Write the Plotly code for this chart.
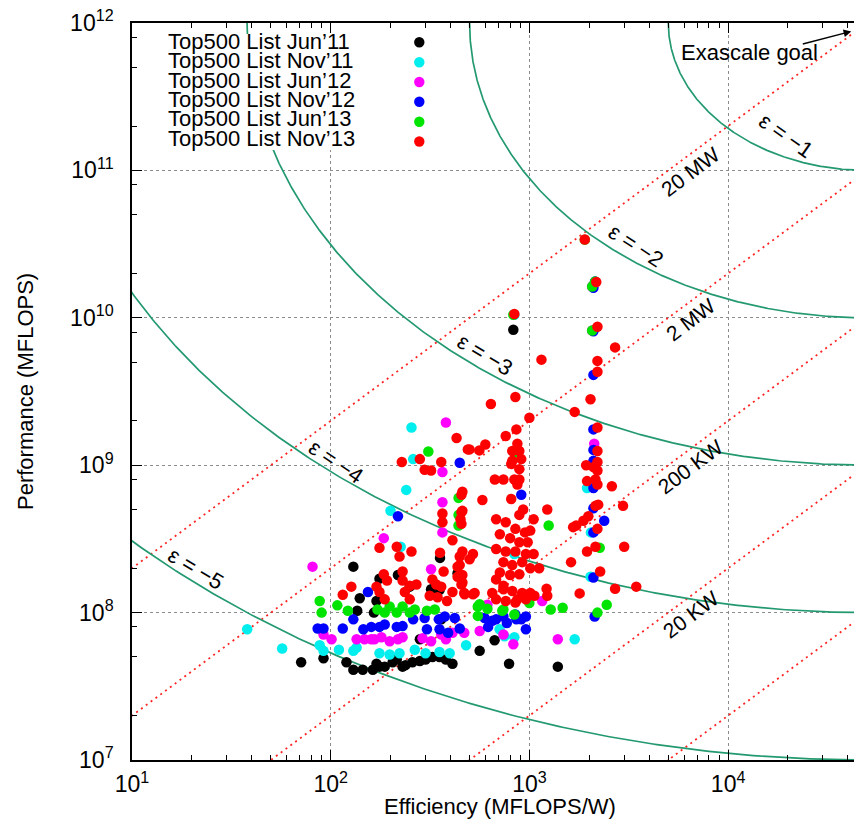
import numpy as np
import plotly.graph_objects as go

# ---------------- data ----------------
SERIES_NAMES = ["Top500 List Jun’11", "Top500 List Nov’11", "Top500 List Jun’12",
                "Top500 List Nov’12", "Top500 List Jun’13", "Top500 List Nov’13"]
SERIES_COLORS = ["#000000", "#00eeee", "#ff00ff", "#0000ff", "#00e400", "#ff0000"]

JUN11_EFF = [71, 92, 120, 130, 145, 163, 130, 140, 136, 170, 176, 187, 205, 215, 230, 238, 258, 281,
             300, 325, 353, 380, 410, 562, 668, 790, 281, 218, 320, 353, 355, 435, 176, 830, 1390,
             165, 170, 250, 360]
JUN11_PERF = [4.6e7, 4.9e7, 4.6e7, 4.1e7, 4.1e7, 4.1e7, 2.05e8, 1.25e8, 1.03e8, 4.5e7, 4.3e7, 4.3e7,
              4.6e7, 4.8e7, 4.3e7, 4.4e7, 4.6e7, 4.7e7, 4.8e7, 5.0e7, 5.0e7, 4.8e7, 4.5e7, 5.5e7,
              6.5e7, 4.5e7, 6.6e7, 1.8e8, 1.44e8, 1.42e8, 2.35e8, 1.85e8, 1.7e8, 8.3e9, 4.3e7,
              1.0e8, 1.2e8, 1.5e8, 9.0e7]

NOV11_EFF = [38, 57, 88, 92, 110, 130, 135, 176, 198, 222, 265, 300, 353, 397, 480, 708, 840,
             255, 260, 240, 200, 225, 1690, 2040, 1950, 2030, 840, 840, 750]
NOV11_PERF = [7.7e7, 5.7e7, 6.0e7, 5.5e7, 5.6e7, 5.5e7, 5.8e7, 5.3e7, 5.2e7, 5.3e7, 5.6e7, 5.3e7,
              5.4e7, 5.3e7, 6.0e7, 7.7e7, 6.8e7, 1.8e9, 1.1e9, 6.8e8, 4.9e8, 2.8e8, 6.6e7, 3.5e8,
              7.0e8, 1.75e8, 1.05e10, 2.5e8, 6.9e7]

JUN12_EFF = [81, 92, 101, 135, 148, 166, 160, 180, 198, 218, 230, 290, 320, 360, 380, 410, 470,
             562, 740, 830, 380, 365, 365, 365, 185, 320, 615, 1160, 1390, 2120, 2070, 2070]
JUN12_PERF = [2.05e8, 7.1e7, 6.6e7, 6.6e7, 6.6e7, 6.6e7, 6.6e7, 6.8e7, 6.4e7, 6.6e7, 6.8e7, 6.7e7,
              6.4e7, 7.1e7, 6.6e7, 7.3e7, 7.3e7, 7.5e7, 7.1e7, 6.1e7, 1.95e9, 9.0e8, 5.6e8, 3.5e8,
              3.2e8, 1.97e8, 1.13e8, 1.2e8, 6.6e7, 1.4e9, 1.63e10, 8.2e9]

NOV12_EFF = [86, 92, 115, 130, 146, 154, 160, 176, 187, 215, 230, 260, 297, 350, 375, 421, 446,
             305, 353, 390, 595, 650, 680, 620, 770, 860, 740, 850, 960, 446, 218, 910,
             2100, 2100, 2100, 2100, 2100, 2380, 2100, 2100, 2130, 2100, 2100, 2100, 2140, 910, 960]
NOV12_PERF = [7.8e7, 7.8e7, 7.8e7, 9.0e7, 7.7e7, 1.38e8, 8.0e7, 8.0e7, 8.3e7, 8.0e7, 8.1e7, 9.0e7,
              9.2e7, 9.0e7, 9.4e7, 9.2e7, 7.8e7, 7.7e7, 7.7e7, 7.3e7, 9.2e7, 8.8e7, 9.0e7, 8.0e7,
              8.5e7, 9.0e7, 9.4e7, 9.7e7, 9.4e7, 1.04e9, 4.5e8, 6.3e8,
              1.75e9, 1.27e9, 1.07e9, 7.0e8, 5.1e8, 4.2e8, 3.5e8, 1.73e8, 9.4e7, 1.6e10, 8.1e9,
              4.1e9, 1.76e10, 9.0e7, 7.7e7]

JUN13_EFF = [88, 90, 108, 122, 172, 187, 198, 215, 230, 250, 265, 305, 334, 550, 550, 615, 730,
             840, 562, 740, 1000, 310, 440, 440, 440, 860, 1250, 1280, 1470, 2260, 2450, 2200,
             1900, 2140, 2070, 830, 2070]
JUN13_PERF = [1.2e8, 1.0e8, 1.12e8, 1.03e8, 1.05e8, 1.0e8, 1.1e8, 1.0e8, 1.1e8, 1.0e8, 1.05e8,
              1.03e8, 1.05e8, 1.1e8, 9.5e7, 1.06e8, 1.03e8, 9.7e7, 1.14e8, 1.05e8, 1.16e8, 1.24e9,
              6.0e8, 4.6e8, 3.9e8, 1.22e9, 3.9e8, 1.05e8, 1.08e8, 2.75e8, 1.13e8, 1.0e8,
              3.39e10, 1.76e10, 1.63e10, 1.05e10, 8.2e9]

NOV13_POINTS = [
    (1900, 3.4e10), (2170, 1.75e10), (840, 1.06e10), (2200, 8.7e9), (2700, 6.3e9), (1150, 5.2e9),
    (2200, 5.1e9), (2200, 4.3e9), (850, 2.9e9), (2030, 2.8e9), (640, 2.6e9), (1690, 2.3e9),
    (1000, 2.1e9), (2200, 1.8e9),
    (2200, 1.25e9), (2200, 1.05e9), (2100, 9.7e8), (2200, 9.2e8), (2150, 8.0e8), (2200, 7.4e8),
    (1930, 1.0e9), (1950, 7.8e8), (2220, 5.4e8), (2150, 5.3e8), (2600, 7.2e8), (2960, 5.3e8),
    (1980, 4.5e8), (1870, 4.2e8), (1720, 3.9e8), (1660, 3.8e8), (2200, 3.7e8), (2150, 2.8e8),
    (1950, 2.6e8), (3000, 2.8e8), (2270, 1.9e8), (2700, 1.45e8), (3450, 1.5e8), (1790, 1.35e8),
    (1620, 2.2e8), (1120, 2.0e8), (1220, 1.45e8), (1230, 1.3e8), (1230, 5.0e8),
    (870, 1.4e9), (890, 1.25e9), (910, 1.1e9), (890, 9.4e8), (890, 8.0e8), (870, 7.4e8),
    (930, 5.0e8), (890, 4.6e8), (1050, 4.3e8), (1010, 3.6e8), (950, 3.5e8), (980, 3.0e8),
    (1050, 2.5e8),
    (760, 1.58e9), (600, 1.38e9), (560, 1.26e9), (500, 1.28e9), (820, 1.07e9), (670, 8.0e8),
    (740, 8.0e8), (840, 8.0e8), (580, 5.8e8), (810, 5.9e8),
    (460, 6.6e8), (460, 4.9e8), (450, 4.3e8),
    (680, 4.3e8), (760, 4.1e8), (850, 3.7e8), (710, 3.4e8), (800, 3.2e8), (890, 3.0e8),
    (680, 2.7e8), (760, 2.6e8), (850, 2.6e8), (960, 2.5e8), (740, 2.2e8), (820, 2.1e8),
    (920, 2.2e8), (1010, 2.0e8), (710, 1.87e8), (800, 1.8e8), (890, 1.82e8),
    (650, 1.36e8), (740, 1.44e8), (820, 1.4e8), (920, 1.36e8), (1010, 1.36e8), (680, 1.23e8),
    (760, 1.2e8), (850, 1.17e8), (960, 1.23e8), (1060, 1.3e8),
    (460, 2.6e8), (520, 2.5e8), (446, 2.1e8), (460, 1.8e8), (470, 1.36e8), (530, 1.36e8),
    (430, 1.53e9), (281, 1.1e9), (228, 1.05e9), (360, 1.05e9), (490, 1.28e9), (297, 9.3e8),
    (320, 9.2e8), (455, 6.3e8), (455, 4.8e8), (455, 4.0e8), (365, 4.7e8), (365, 4.1e8),
    (410, 3.1e8), (176, 2.75e8), (215, 2.8e8), (222, 2.4e8), (255, 2.6e8), (355, 2.55e8),
    (446, 2.4e8), (500, 2.3e8), (435, 2.05e8),
    (185, 1.82e8), (192, 1.65e8), (170, 1.5e8), (176, 1.38e8), (187, 1.23e8),
    (230, 1.9e8), (230, 1.65e8), (250, 1.52e8), (270, 1.55e8), (236, 1.38e8), (250, 1.23e8),
    (325, 1.68e8), (340, 1.55e8), (360, 1.5e8), (315, 1.3e8), (345, 1.27e8), (385, 1.2e8),
    (410, 1.38e8), (455, 1.55e8), (472, 1.33e8), (520, 1.33e8),
    (370, 1.9e8), (435, 1.75e8), (460, 1.6e8),
    (680, 1.68e8), (740, 1.52e8), (870, 1.23e8),
    (115, 1.32e8), (127, 1.5e8),
    (810, 1.02e9), (820, 1.25e9), (860, 1.75e9),
]
NOV13_EFF = [p[0] for p in NOV13_POINTS]
NOV13_PERF = [p[1] for p in NOV13_POINTS]

SERIES_EFF = [JUN11_EFF, NOV11_EFF, JUN12_EFF, NOV12_EFF, JUN13_EFF, NOV13_EFF]
SERIES_PERF = [JUN11_PERF, NOV11_PERF, JUN12_PERF, NOV12_PERF, JUN13_PERF, NOV13_PERF]

# exascale goal (1 EFLOPS at 20 MW) and iso-epsilon curves around it (radii in decades)
EXA_EFF = 5e4
EXA_PERF = 1e12
EPS_LEVELS = [-1, -2, -3, -4, -5]
EPS_RX = [1.0, 2.0, 3.12, 4.16, 5.2]
EPS_RY = [1.0, 2.0, 3.0, 4.0, 5.0]

# constant power lines (W) and their labels
POWER_W = [2e7, 2e6, 2e5, 2e4, 2e3]
POWER_LABELS = ["20 MW", "2 MW", "200 KW", "20 KW", ""]

X_TICKS = [1e1, 1e2, 1e3, 1e4]
X_TICKTEXT = ["10<sup>1</sup>", "10<sup>2</sup>", "10<sup>3</sup>", "10<sup>4</sup>"]
Y_TICKS = [1e7, 1e8, 1e9, 1e10, 1e11, 1e12]
Y_TICKTEXT = ["10<sup>7</sup>", "10<sup>8</sup>", "10<sup>9</sup>", "10<sup>10</sup>",
              "10<sup>11</sup>", "10<sup>12</sup>"]

# ---------------- layout geometry ----------------
W, H = 854, 819
PL, PR, PT, PB = 132, 854, 23, 760
XDEC = 198.7
X_RANGE = [1, 1 + (PR - PL) / XDEC]
Y_RANGE = [7, 12]
FONT = "Liberation Sans, Arial, Helvetica, sans-serif"
GREEN = "#23996f"
RED = "#ff2424"


def pxx(x):
    return (x - PL) / (PR - PL)


def pyy(y):
    return (PB - y) / (PB - PT)


fig = go.Figure()

# power lines
eff_line = np.logspace(0.9, 5.0, 60)
for w in POWER_W:
    fig.add_trace(go.Scatter(x=eff_line, y=w * eff_line, mode="lines",
                             line=dict(color=RED, width=1.8, dash="2px,4px"),
                             hoverinfo="skip", showlegend=False))

# epsilon curves
theta = np.linspace(np.pi, 1.5 * np.pi, 400)
for rx, ry in zip(EPS_RX, EPS_RY):
    lx = np.log10(EXA_EFF) + rx * np.cos(theta)
    ly = np.log10(EXA_PERF) + ry * np.sin(theta)
    fig.add_trace(go.Scatter(x=10 ** lx, y=10 ** ly, mode="lines",
                             line=dict(color=GREEN, width=1.7),
                             hoverinfo="skip", showlegend=False))

# data series
for name, col, ex, pf in zip(SERIES_NAMES, SERIES_COLORS, SERIES_EFF, SERIES_PERF):
    fig.add_trace(go.Scatter(x=ex, y=pf, mode="markers", name=name,
                             marker=dict(color=col, size=10.5, line=dict(width=0)),
                             showlegend=False))

annotations = []
# curve labels
EPS_LABEL_POS = [(4.290, 11.236, 35), (3.535, 10.490, 33), (2.775, 9.751, 31),
                 (2.025, 9.025, 34), (1.321, 8.300, 31)]
for lev, (ax_, ay_, ang) in zip(EPS_LEVELS, EPS_LABEL_POS):
    annotations.append(dict(x=ax_, y=ay_, xref="x", yref="y", text=f"ε = −{abs(lev)}",
                            showarrow=False, textangle=ang, xanchor="center", yanchor="middle",
                            font=dict(family=FONT, size=22, color="black")))
POWER_LABEL_X = 3.812
POWER_LABEL_Y = [10.992, 9.989, 8.989, 7.989]
for lab, ly in zip(POWER_LABELS, POWER_LABEL_Y):
    annotations.append(dict(x=POWER_LABEL_X, y=ly, xref="x", yref="y", text=lab,
                            showarrow=False, textangle=-37, xanchor="center", yanchor="middle",
                            font=dict(family=FONT, size=21, color="black")))

# exascale goal text and arrow
annotations.append(dict(x=4.109, y=11.797, xref="x", yref="y", text="Exascale goal",
                        showarrow=False, xanchor="center", yanchor="middle",
                        font=dict(family=FONT, size=22, color="black")))
annotations.append(dict(x=4.62, y=11.943, xref="x", yref="y", text="", showarrow=True,
                        ax=-50, ay=13, arrowhead=2, arrowsize=1.1, arrowwidth=1.4,
                        arrowcolor="black", standoff=0))

# axis titles
annotations.append(dict(x=pxx(500), y=pyy(806), xref="paper", yref="paper",
                        text="Efficiency (MFLOPS/W)", showarrow=False,
                        xanchor="center", yanchor="middle",
                        font=dict(family=FONT, size=22, color="black")))
annotations.append(dict(x=pxx(25), y=pyy(392), xref="paper", yref="paper",
                        text="Performance (MFLOPS)", showarrow=False, textangle=-90,
                        xanchor="center", yanchor="middle",
                        font=dict(family=FONT, size=22, color="black")))

# legend (gnuplot style: text then marker)
LEG_TEXT_Y = [41.7, 61.0, 80.3, 99.6, 119.0, 138.3]
LEG_MARK_Y = [42.3, 62.3, 82.0, 101.8, 121.8, 141.5]
shapes = [dict(type="rect", xref="paper", yref="paper", x0=pxx(150), x1=pxx(440),
               y0=pyy(150), y1=pyy(34), fillcolor="white", line=dict(width=0), layer="above")]
for name, col, ty, my in zip(SERIES_NAMES, SERIES_COLORS, LEG_TEXT_Y, LEG_MARK_Y):
    annotations.append(dict(x=pxx(166), y=pyy(ty), xref="paper", yref="paper", text=name,
                            showarrow=False, xanchor="left", yanchor="middle",
                            font=dict(family=FONT, size=22, color="black")))
    r = 5.2
    shapes.append(dict(type="circle", xref="paper", yref="paper",
                       x0=pxx(419.3 - r), x1=pxx(419.3 + r), y0=pyy(my + r), y1=pyy(my - r),
                       fillcolor=col, line=dict(width=0), layer="above"))

x_minor = [m * 10 ** d for d in range(1, 5) for m in range(2, 10)]
y_minor = [m * 10 ** d for d in range(7, 12) for m in (2, 5, 8)]

fig.update_layout(
    width=W, height=H,
    margin=dict(l=PL, r=W - PR, t=PT, b=H - PB, pad=0),
    paper_bgcolor="white", plot_bgcolor="white",
    showlegend=False,
    font=dict(family=FONT, color="black"),
    annotations=annotations,
    shapes=shapes,
    xaxis=dict(type="log", range=X_RANGE, showline=True, linecolor="black", linewidth=1.6,
               mirror="ticks", ticks="inside", ticklen=10, tickwidth=1.3, tickcolor="black",
               tickvals=X_TICKS, ticktext=X_TICKTEXT, tickfont=dict(family=FONT, size=23),
               showgrid=True, gridcolor="#8c8c8c", gridwidth=1, griddash="dot",
               zeroline=False, ticklabelstandoff=3,
               minor=dict(tickvals=x_minor, ticks="inside", ticklen=5, tickwidth=1.1,
                          tickcolor="black", showgrid=False)),
    yaxis=dict(type="log", range=Y_RANGE, showline=True, linecolor="black", linewidth=1.6,
               mirror=False, ticks="inside", ticklen=10, tickwidth=1.3, tickcolor="black",
               tickvals=Y_TICKS, ticktext=Y_TICKTEXT, tickfont=dict(family=FONT, size=23),
               showgrid=True, gridcolor="#8c8c8c", gridwidth=1, griddash="dot",
               zeroline=False, ticklabelstandoff=12,
               minor=dict(tickvals=y_minor, ticks="inside", ticklen=5, tickwidth=1.1,
                          tickcolor="black", showgrid=False)),
)

fig.write_html("out.html", config={"displayModeBar": False},
               post_script="document.body.style.margin='0px';")
